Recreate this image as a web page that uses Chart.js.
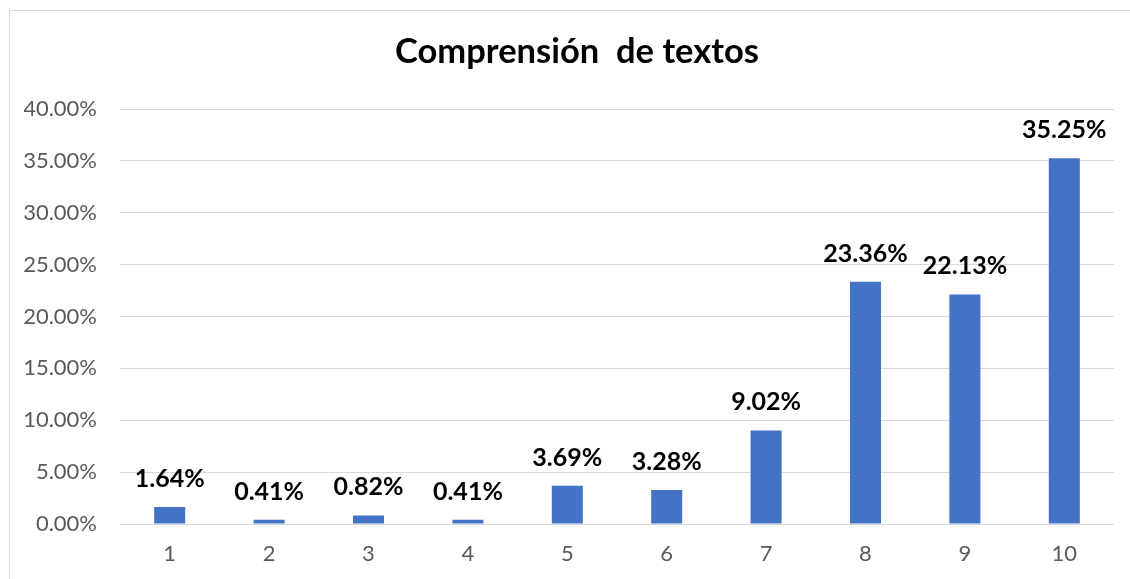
<!DOCTYPE html>
<html>
<head>
<meta charset="utf-8">
<script src="https://cdn.jsdelivr.net/npm/chart.js@4/dist/chart.umd.min.js"></script>
<style>
  html, body { margin: 0; padding: 0; background: #ffffff; }
  #wrap { width: 1130px; height: 579px; position: relative; }
</style>
</head>
<body>
<div id="wrap"><canvas id="c" width="1130" height="579"></canvas></div>
<script>
const categories = ['1', '2', '3', '4', '5', '6', '7', '8', '9', '10'];
const values = [1.64, 0.41, 0.82, 0.41, 3.69, 3.28, 9.02, 23.36, 22.13, 35.25];
const yTicks = [0, 5, 10, 15, 20, 25, 30, 35, 40];
const chartTitle = 'Comprensión  de textos';

const FONT = 'Lato, "Open Sans", sans-serif';

const frame = {
  id: 'frame',
  beforeDraw(chart) {
    const ctx = chart.ctx;
    ctx.save();
    ctx.fillStyle = '#ffffff';
    ctx.fillRect(0, 0, chart.width, chart.height);
    ctx.strokeStyle = '#d9d9d9';
    ctx.lineWidth = 1;
    ctx.strokeRect(9.5, 10.5, chart.width + 20, chart.height + 20);
    // chart title, centred in the outer chart frame
    ctx.font = 'bold 34.5px ' + FONT;
    ctx.fillStyle = '#000000';
    ctx.textAlign = 'center';
    ctx.textBaseline = 'alphabetic';
    ctx.fillText(chartTitle, 577, 63);
    ctx.restore();
  }
};

const dataLabels = {
  id: 'dataLabels',
  afterDatasetsDraw(chart) {
    const ctx = chart.ctx;
    const meta = chart.getDatasetMeta(0);
    ctx.save();
    ctx.font = 'bold 25px ' + FONT;
    ctx.fillStyle = '#000000';
    ctx.textAlign = 'center';
    ctx.textBaseline = 'alphabetic';
    meta.data.forEach((bar, i) => {
      ctx.fillText(values[i].toFixed(2) + '%', bar.x, bar.y - 20);
    });
    ctx.restore();
  }
};

new Chart(document.getElementById('c'), {
  type: 'bar',
  data: {
    labels: categories,
    datasets: [{
      data: values,
      backgroundColor: '#4472C4',
      borderWidth: 0,
      categoryPercentage: 1,
      barPercentage: 0.312
    }]
  },
  options: {
    responsive: false,
    animation: false,
    devicePixelRatio: 1,
    layout: { padding: { left: 24, right: 16, top: 109, bottom: 0 } },
    plugins: {
      legend: { display: false },
      tooltip: { enabled: false },
      title: { display: false }
    },
    scales: {
      x: {
        grid: { display: false, drawTicks: false },
        border: { display: false },
        ticks: { color: '#595959', font: { family: FONT, size: 22 }, padding: 17 },
        afterFit(scale) { scale.height = 55; }
      },
      y: {
        min: 0,
        max: 40,
        afterBuildTicks(scale) { scale.ticks = yTicks.map(v => ({ value: v })); },
        grid: { color: '#d9d9d9', lineWidth: 1, drawTicks: false },
        border: { display: false },
        ticks: {
          color: '#595959',
          font: { family: FONT, size: 22 },
          padding: 23,
          callback: v => v.toFixed(2) + '%'
        },
        afterFit(scale) { scale.width = 96; }
      }
    }
  },
  plugins: [frame, dataLabels]
});
</script>
</body>
</html>
